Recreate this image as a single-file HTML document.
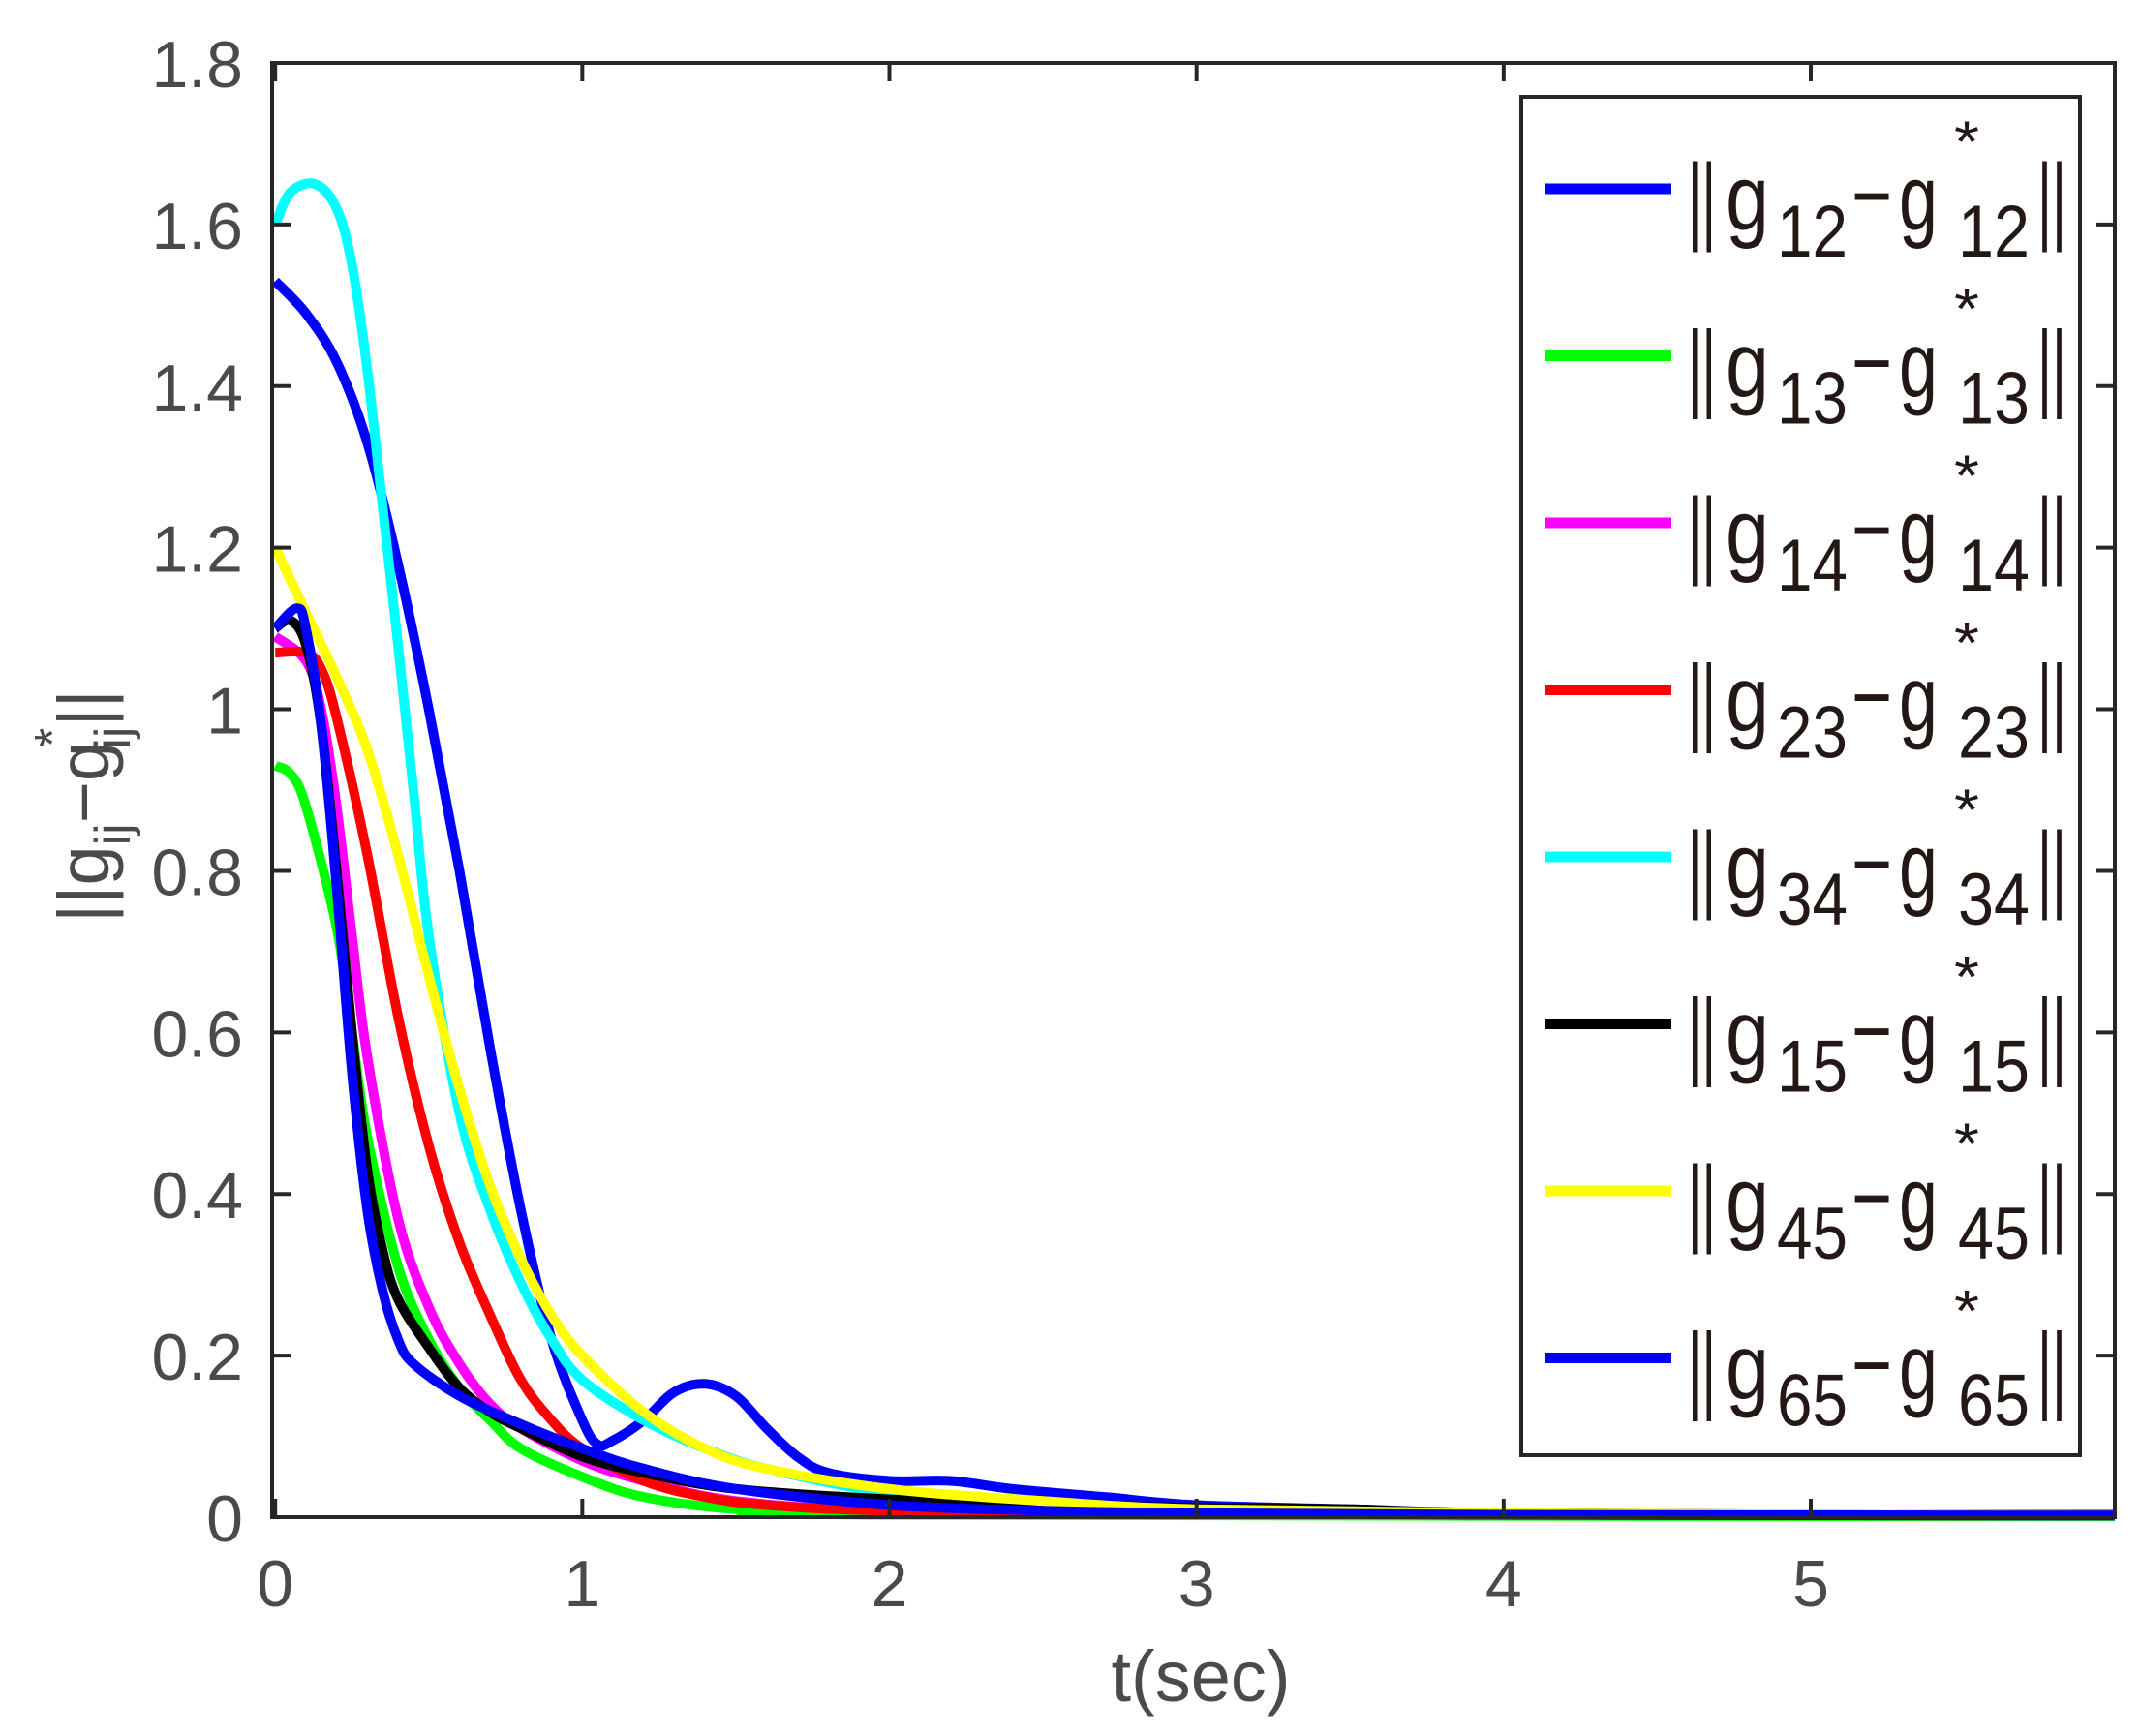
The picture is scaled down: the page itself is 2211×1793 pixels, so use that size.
<!DOCTYPE html>
<html><head><meta charset="utf-8"><style>
html,body{margin:0;padding:0;background:#fff}
svg{display:block}
</style></head><body>
<svg id="chart" width="2211" height="1793" xmlns="http://www.w3.org/2000/svg" font-family="'Liberation Sans', Arial, sans-serif">
<rect width="2211" height="1793" fill="#fff"/>
<g id="plot"></g>
<g id="axes"></g>
<g id="legend"></g>
</svg>
<script>
const xTicks = [0,1,2,3,4,5];
const yTicks = [0,0.2,0.4,0.6,0.8,1,1.2,1.4,1.6,1.8];
const yTickLabels = ["0","0.2","0.4","0.6","0.8","1","1.2","1.4","1.6","1.8"];
const seriesNames = ["12","13","14","23","34","15","45","65"];
const seriesColors = ["#0000ff","#00ff00","#ff00ff","#ff0000","#00ffff","#000000","#ffff00","#0000ff"];
const t12 = [0,0.1,0.2,0.3,0.4,0.5,0.6,0.7,0.8,0.9,1.0,1.05,1.1,1.2,1.3,1.4,1.5,1.6,1.7,1.8,2.0,2.2,2.4,2.7,3.0,3.5,4,5,5.99];
const v12 = [1.53,1.49,1.43,1.33,1.18,1.0,0.80,0.58,0.38,0.22,0.12,0.09,0.095,0.12,0.155,0.165,0.15,0.11,0.075,0.055,0.045,0.045,0.035,0.025,0.015,0.01,0.005,0.003,0.003];
const t13 = [0,0.05,0.1,0.2,0.25,0.3,0.4,0.5,0.6,0.7,0.8,1.0,1.2,1.5,2,5.99];
const v13 = [0.93,0.92,0.88,0.73,0.6,0.47,0.31,0.22,0.16,0.12,0.085,0.05,0.025,0.01,0.003,0.001];
const t14 = [0,0.1,0.15,0.2,0.25,0.3,0.4,0.5,0.6,0.7,0.8,1.0,1.2,1.5,2,3,5.99];
const v14 = [1.09,1.06,1.0,0.88,0.72,0.57,0.37,0.26,0.19,0.14,0.11,0.07,0.045,0.02,0.008,0.004,0.002];
const t23 = [0,0.1,0.15,0.2,0.3,0.4,0.5,0.6,0.7,0.8,0.9,1.0,1.2,1.4,1.6,2.0,3,5.99];
const v23 = [1.07,1.07,1.05,0.99,0.82,0.62,0.46,0.34,0.25,0.17,0.12,0.085,0.045,0.025,0.015,0.008,0.004,0.002];
const t34 = [0,0.05,0.13,0.2,0.25,0.3,0.35,0.4,0.45,0.5,0.6,0.7,0.8,0.9,1.0,1.2,1.4,1.6,2.0,2.5,3,4,5.99];
const v34 = [1.60,1.64,1.65,1.62,1.55,1.42,1.25,1.08,0.9,0.72,0.5,0.38,0.29,0.22,0.17,0.12,0.085,0.06,0.03,0.015,0.008,0.004,0.002];
const t15 = [0,0.05,0.1,0.15,0.2,0.25,0.3,0.35,0.4,0.5,0.6,0.7,0.8,1.0,1.2,1.5,2.0,2.5,3.0,3.5,4,5.99];
const v15 = [1.10,1.11,1.08,0.98,0.80,0.60,0.43,0.33,0.27,0.21,0.16,0.13,0.11,0.075,0.055,0.035,0.022,0.015,0.012,0.01,0.005,0.002];
const t45 = [0,0.1,0.2,0.3,0.4,0.5,0.6,0.7,0.8,0.9,1.0,1.2,1.4,1.6,2.0,2.5,3,4,5.99];
const v45 = [1.20,1.12,1.04,0.95,0.82,0.67,0.53,0.41,0.32,0.25,0.2,0.13,0.085,0.06,0.035,0.02,0.01,0.005,0.002];
const t65 = [0,0.07,0.1,0.15,0.2,0.25,0.3,0.35,0.4,0.45,0.6,0.8,1.0,1.2,1.5,2.0,2.5,3,4,5.99];
const v65 = [1.10,1.125,1.1,0.98,0.78,0.55,0.38,0.28,0.22,0.19,0.15,0.115,0.085,0.06,0.035,0.015,0.008,0.005,0.003,0.002];
const seriesT = [t12,t13,t14,t23,t34,t15,t45,t65];
const seriesV = [v12,v13,v14,v23,v34,v15,v45,v65];

const NS="http://www.w3.org/2000/svg";
const L=281,R=2184,T=65,B=1567,XMIN=-0.01,XMAX=5.99,YMIN=0,YMAX=1.8;
const xs=t=>L+(t-XMIN)/(XMAX-XMIN)*(R-L);
const ys=v=>B-(v-YMIN)/(YMAX-YMIN)*(B-T);
function mk(tag,attrs,parent){const e=document.createElementNS(NS,tag);for(const k in attrs)e.setAttribute(k,attrs[k]);parent.appendChild(e);return e;}
function smoothPath(P){
  let d='M'+P[0][0].toFixed(1)+','+P[0][1].toFixed(1);
  for(let i=0;i<P.length-1;i++){
    const p0=P[i-1]||P[i],p1=P[i],p2=P[i+1],p3=P[i+2]||p2;
    const c1=[p1[0]+(p2[0]-p0[0])/6,p1[1]+(p2[1]-p0[1])/6];
    const c2=[p2[0]-(p3[0]-p1[0])/6,p2[1]-(p3[1]-p1[1])/6];
    d+=' C'+c1[0].toFixed(1)+','+c1[1].toFixed(1)+' '+c2[0].toFixed(1)+','+c2[1].toFixed(1)+' '+p2[0].toFixed(1)+','+p2[1].toFixed(1);
  }
  return d;
}
const plot=document.getElementById('plot'),axes=document.getElementById('axes'),legend=document.getElementById('legend');

seriesNames.forEach((n,i)=>{
  const P=seriesT[i].map((t,j)=>[xs(t),ys(seriesV[i][j])]);
  const p=mk('path',{d:smoothPath(P),fill:'none',stroke:seriesColors[i],'stroke-width':10,'stroke-linejoin':'round'},plot);
  
  
});

const box=mk('rect',{x:L,y:T,width:R-L,height:B-T,fill:'none',stroke:'#262626','stroke-width':4},axes);


xTicks.forEach(t=>{
  const x=xs(t);
  mk('line',{x1:x,y1:B,x2:x,y2:B-19,stroke:'#262626','stroke-width':4},axes);
  mk('line',{x1:x,y1:T,x2:x,y2:T+19,stroke:'#262626','stroke-width':4},axes);
  const tx=mk('text',{x:x,y:1659,'font-size':68,fill:'#4d4949','text-anchor':'middle'},axes);
  tx.textContent=String(t);
  
  
});
yTicks.forEach((v,i)=>{
  const y=ys(v);
  mk('line',{x1:L,y1:y,x2:L+19,y2:y,stroke:'#262626','stroke-width':4},axes);
  mk('line',{x1:R,y1:y,x2:R-19,y2:y,stroke:'#262626','stroke-width':4},axes);
  const tx=mk('text',{x:251,y:y+25,'font-size':68,fill:'#4d4949','text-anchor':'end'},axes);
  tx.textContent=yTickLabels[i];
  
  
});
const xl=mk('text',{x:1240,y:1757,'font-size':74,fill:'#4d4949','text-anchor':'middle'},axes);
xl.textContent='t(sec)';



const yl=mk('g',{transform:'translate(112,813) rotate(-90)'},axes);


const ylt=mk('text',{x:-140,y:0,'font-size':74,fill:'#4d4949'},yl);
ylt.innerHTML='<tspan>||g</tspan><tspan dy="22" font-size="52">ij</tspan><tspan dy="-22">−g</tspan><tspan dx="-6" dy="-40" font-size="52">*</tspan><tspan dx="-22" dy="62" font-size="52">ij</tspan><tspan dy="-22">||</tspan>';

const lb=mk('rect',{x:1571,y:100,width:577,height:1403,fill:'#fff',stroke:'#262626','stroke-width':4},legend);


seriesNames.forEach((n,i)=>{
  const c=195+i*172.5;
  const g=mk('g',{},legend);
  
  
  mk('line',{x1:1596,y1:c,x2:1726,y2:c,stroke:seriesColors[i],'stroke-width':11},g);
  const base=c+42, sb=c+70;
  const parts=[
    ['||',1743,1772,base+2,100],
    ['g',1782,1827,base,96],
    [n,1835,1908,sb,76],
    ['−',1912,1954,base-2,96],
    ['g',1961,2001,base,96],
    ['*',2018,2044,c-28,60],
    [n,2022,2096,sb,76],
    ['||',2104,2134,base+2,100]
  ];
  parts.forEach(p=>{
    const t=mk('text',{x:p[1],y:p[3],'font-size':p[4],fill:'#231815',textLength:p[2]-p[1],lengthAdjust:'spacingAndGlyphs'},g);
    t.textContent=p[0];
  });
});
</script>
</body></html>
